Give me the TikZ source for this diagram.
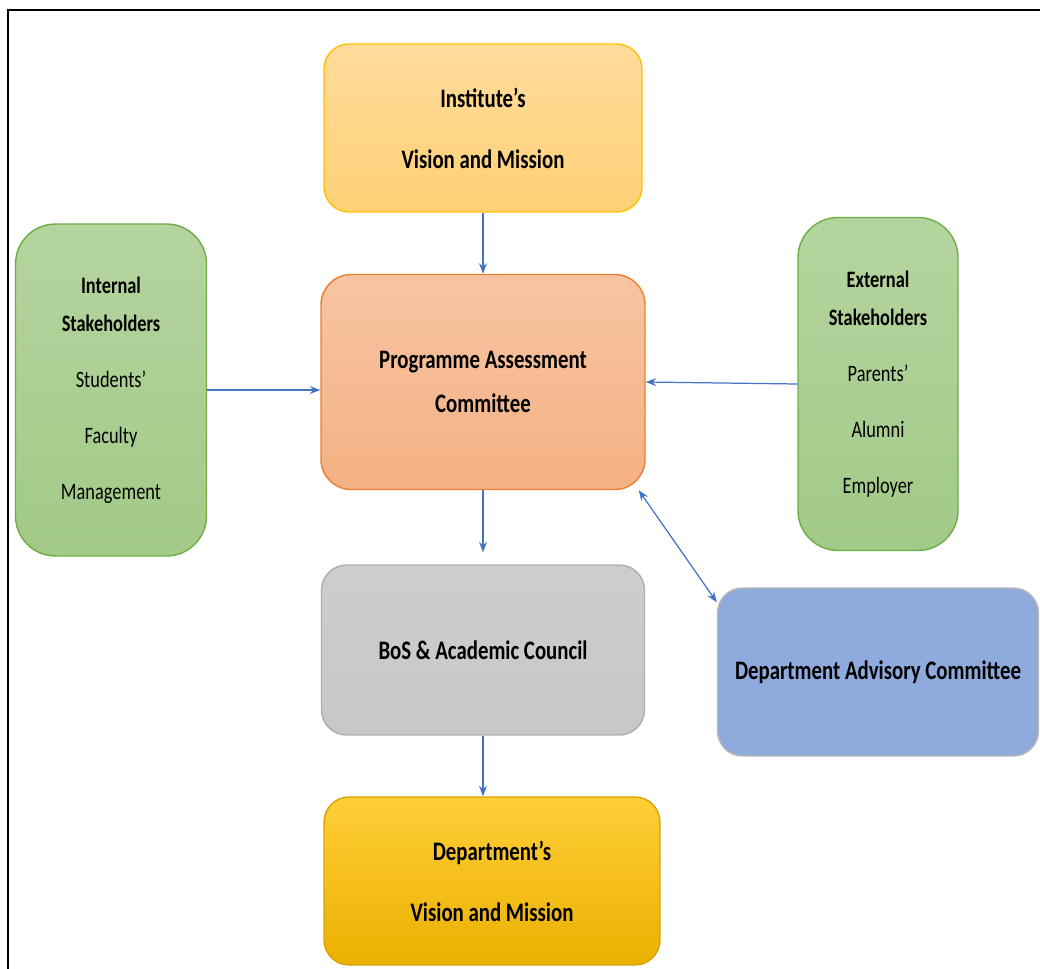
\documentclass[tikz,border=0pt]{standalone}
\usepackage{fontspec}
\setmainfont{Carlito}[FakeStretch=0.78]
\usetikzlibrary{arrows.meta}
\definecolor{ablue}{HTML}{4472C4}
\definecolor{agold}{HTML}{FFC000}
\definecolor{aorange}{HTML}{ED7D31}
\definecolor{agreen}{HTML}{70AD47}
\definecolor{agray}{HTML}{A5A5A5}
\definecolor{instTop}{HTML}{FFDB9C}
\definecolor{instBot}{HTML}{FFD176}
\tikzset{
  card/.style={rounded corners=0.5cm,line width=0.8pt,align=center,inner sep=0pt,font=\bfseries\fontsize{15.2}{34.6}\selectfont},
  goldbox/.style={card,draw=agold,top color=instTop,bottom color=instBot},
  pacbox/.style={card,draw=aorange,top color=aorange!45,bottom color=aorange!60,rounded corners=0.6cm},
  stakebox/.style={card,draw=agreen,top color=agreen!52,bottom color=agreen!65,rounded corners=0.8cm,font=\fontsize{13.4}{31.8}\selectfont},
  graybox/.style={card,draw=agray!90,top color=agray!55,bottom color=agray!62},
  bluebox/.style={card,draw=agray!80,fill=ablue!60},
  deptbox/.style={card,draw=agold!85!black,top color=agold!78,bottom color=agold!92!black},
  arr/.style={-{Stealth[length=6pt,width=4.5pt]},line width=0.7pt,draw=ablue},
  darr/.style={{Stealth[length=6pt,width=4.5pt]}-{Stealth[length=6pt,width=4.5pt]},line width=0.7pt,draw=ablue},
}
\begin{document}
\begin{tikzpicture}[x=0.02cm,y=-0.02cm]
  \useasboundingbox (0,0) rectangle (1040,969);
  \draw[line width=1.5pt] (1040,10) -- (8,10) -- (8,969);
  % boxes
  \node[goldbox,minimum width=6.36cm,minimum height=3.36cm] (inst) at (483,128) {Institute’s\\Vision and Mission};
  \node[pacbox,minimum width=6.48cm,minimum height=4.3cm] (pac) at (483,382) {Programme Assessment\\[-9.6pt]Committee};
  \node[stakebox,minimum width=3.82cm,minimum height=6.64cm] (int) at (111,390) {\textbf{Internal}\\[-9.7pt]\textbf{Stakeholders}\\Students’\\Faculty\\Management};
  \node[stakebox,minimum width=3.2cm,minimum height=6.66cm] (ext) at (878,384) {\textbf{External}\\[-9.7pt]\textbf{Stakeholders}\\Parents’\\Alumni\\Employer};
  \node[graybox,minimum width=6.46cm,minimum height=3.4cm] (bos) at (483,650) {BoS \& Academic Council};
  \node[bluebox,minimum width=6.42cm,minimum height=3.36cm] (dac) at (878,672) {Department Advisory Committee};
  \node[deptbox,minimum width=6.72cm,minimum height=3.36cm] (dept) at (492,881) {Department’s\\Vision and Mission};
  % connectors
  \draw[arr] (inst.south) -- (pac.north);
  \draw[arr] (int.east) -- (pac.west |- int.east);
  \draw[arr] (ext.west) -- (pac.east);
  \draw[arr,shorten >=6.8pt] (pac.south) -- (bos.north);
  \draw[arr] (bos.south) -- (bos.south |- dept.north);
  \draw[darr] ([xshift=-0.14cm]pac.south east) -- ([yshift=-0.3cm]dac.north west);
\end{tikzpicture}
\end{document}
